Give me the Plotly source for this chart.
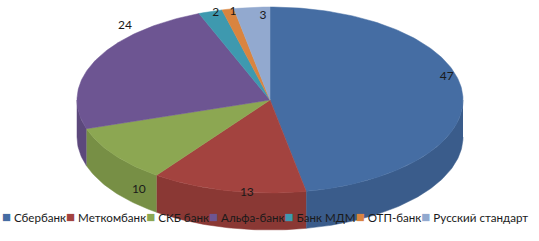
import numpy as np
import plotly.graph_objects as go

# ---- data ----
banks = ["Сбербанк", "Меткомбанк", "СКБ банк", "Альфа-банк", "Банк МДМ", "ОТП-банк", "Русский стандарт"]
shares = [47, 13, 10, 24, 2, 1, 3]

# ---- style ----
top_colors = ["#456DA3", "#A3433F", "#8CA752", "#6D5592", "#3E99AF", "#D9843F", "#92A9CF"]
side_colors = ["#3A5C8B", "#8A3834", "#778F45", "#5C487C", "#338295", "#B86F34", "#7C90B0"]
label_k = [0.92, 0.55, 0.84, 0.83, 0.91, 0.88, 0.39]
label_dy = [-15, 43, 44, -41, -7, -8, -48]

W, H = 539, 241
cx, cy, rx, ry, depth = 270, 100, 193, 93, 37

total = float(sum(shares))
fig = go.Figure()


def ell(theta):
    return cx + rx * np.sin(theta), cy - ry * np.cos(theta)


starts = np.cumsum([0] + shares[:-1]) / total * 2 * np.pi
ends = np.cumsum(shares) / total * 2 * np.pi

# side faces (front half only: angles between pi/2 and 3pi/2)
for i, (a0, a1) in enumerate(zip(starts, ends)):
    s0, s1 = max(a0, np.pi / 2), min(a1, 3 * np.pi / 2)
    if s1 <= s0:
        continue
    t = np.linspace(s0, s1, max(4, int((s1 - s0) * 60)))
    x, y = ell(t)
    xs = np.concatenate([x, x[::-1]])
    ys = np.concatenate([y, (y + depth)[::-1]])
    fig.add_trace(go.Scatter(x=xs, y=ys, fill="toself", mode="lines",
                             fillcolor=side_colors[i],
                             line=dict(color=side_colors[i], width=0.5),
                             hoverinfo="skip", showlegend=False))

# top faces
for i, (a0, a1) in enumerate(zip(starts, ends)):
    t = np.linspace(a0, a1, max(4, int((a1 - a0) * 60)))
    x, y = ell(t)
    xs = np.concatenate([[cx], x, [cx]])
    ys = np.concatenate([[cy], y, [cy]])
    fig.add_trace(go.Scatter(x=xs, y=ys, fill="toself", mode="lines",
                             fillcolor=top_colors[i],
                             line=dict(color=top_colors[i], width=0.5),
                             name=banks[i], hoverinfo="skip", showlegend=False))

# data labels
mids = (starts + ends) / 2
lx = [cx + k * rx * np.sin(m) for k, m in zip(label_k, mids)]
ly = [cy - k * ry * np.cos(m) + d for k, m, d in zip(label_k, mids, label_dy)]
fig.add_trace(go.Scatter(x=lx, y=ly, mode="text", text=[str(v) for v in shares],
                         textfont=dict(family="Lato, Open Sans, sans-serif", size=12, color="#1a1a1a"),
                         hoverinfo="skip", showlegend=False))

# legend as one line of text
legend_text = "".join(
    f"<span style='color:{c};font-size:15px'>■</span> {b}" for c, b in zip(top_colors, banks)
)
fig.add_annotation(x=0, y=216, xref="x", yref="y", xanchor="left", yanchor="middle",
                   text=legend_text, showarrow=False,
                   font=dict(family="Lato, Open Sans, sans-serif", size=11.6, color="#1a1a1a"))

fig.update_layout(
    width=W, height=H, autosize=False,
    margin=dict(l=0, r=0, t=0, b=0),
    paper_bgcolor="white", plot_bgcolor="white",
    xaxis=dict(range=[0, W], visible=False, fixedrange=True),
    yaxis=dict(range=[H, 0], visible=False, fixedrange=True),
    showlegend=False,
)

fig.write_html("out.html")
